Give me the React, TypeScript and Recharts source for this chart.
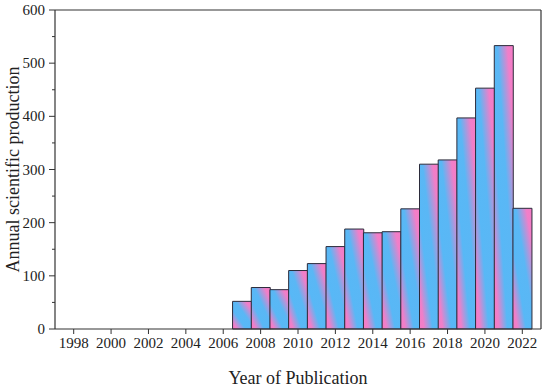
import { BarChart, Bar, XAxis, YAxis, ReferenceLine } from 'recharts';

const years = [2007, 2008, 2009, 2010, 2011, 2012, 2013, 2014, 2015, 2016, 2017, 2018, 2019, 2020, 2021, 2022];
const counts = [52, 78, 74, 110, 123, 155, 188, 181, 183, 226, 310, 318, 397, 453, 533, 227];
const xTicks = [1998, 2000, 2002, 2004, 2006, 2008, 2010, 2012, 2014, 2016, 2018, 2020, 2022];
const yTicks = [0, 50, 100, 150, 200, 250, 300, 350, 400, 450, 500, 550, 600];

const data = years.map((year, i) => ({ year, count: counts[i] }));

const FONT = '"Liberation Serif", "DejaVu Serif", serif';
const AXIS = '#333';

function YTick(props: any) {
  const { y, payload } = props;
  const major = payload.value % 100 === 0;
  return (
    <g>
      <line x1={major ? 49 : 52} x2={55} y1={y} y2={y} stroke={AXIS} strokeWidth={1} />
      {major && (
        <text x={45} y={y} dy={5} textAnchor="end" fontSize={15} fontFamily={FONT} fill="#222">
          {payload.value}
        </text>
      )}
    </g>
  );
}

export default function App() {
  return (
    <div style={{ position: 'absolute', left: 0, top: 0, background: '#fff' }}>
      <BarChart width={550} height={388} data={data} barCategoryGap={0} margin={{ top: 10, right: 9, left: 0, bottom: 0 }}>
        <defs>
          <linearGradient id="barFill" x1="0" y1="1" x2="1" y2="0">
            <stop offset="0%" stopColor="#f47cc6" />
            <stop offset="12%" stopColor="#f07fc9" />
            <stop offset="35%" stopColor="#58b8f6" />
            <stop offset="58%" stopColor="#5ab7f5" />
            <stop offset="85%" stopColor="#f27ec8" />
            <stop offset="100%" stopColor="#f47cc6" />
          </linearGradient>
        </defs>
        <XAxis
          type="number"
          dataKey="year"
          domain={[1997, 2023]}
          ticks={xTicks}
          interval={0}
          height={59}
          tickSize={5}
          tickMargin={3}
          axisLine={{ stroke: AXIS, strokeWidth: 1.2 }}
          tickLine={{ stroke: AXIS }}
          tick={{ fontSize: 15, fontFamily: FONT, fill: '#222' }}
          label={{ value: 'Year of Publication', position: 'insideBottom', offset: 4, fontSize: 18, fontFamily: FONT, fill: '#222' }}
        />
        <YAxis
          type="number"
          domain={[0, 600]}
          ticks={yTicks}
          interval={0}
          width={55}
          tickLine={false}
          axisLine={{ stroke: AXIS, strokeWidth: 1.2 }}
          tick={<YTick />}
          label={{ value: 'Annual scientific production', angle: -90, position: 'insideLeft', offset: 13, style: { textAnchor: 'middle' }, fontSize: 18, fontFamily: FONT, fill: '#222' }}
        />
        <ReferenceLine y={600} stroke={AXIS} strokeWidth={1.2} />
        <ReferenceLine x={2023} stroke={AXIS} strokeWidth={1.2} />
        <Bar dataKey="count" fill="url(#barFill)" stroke="#2b2b3a" strokeWidth={1} isAnimationActive={false} />
      </BarChart>
    </div>
  );
}
